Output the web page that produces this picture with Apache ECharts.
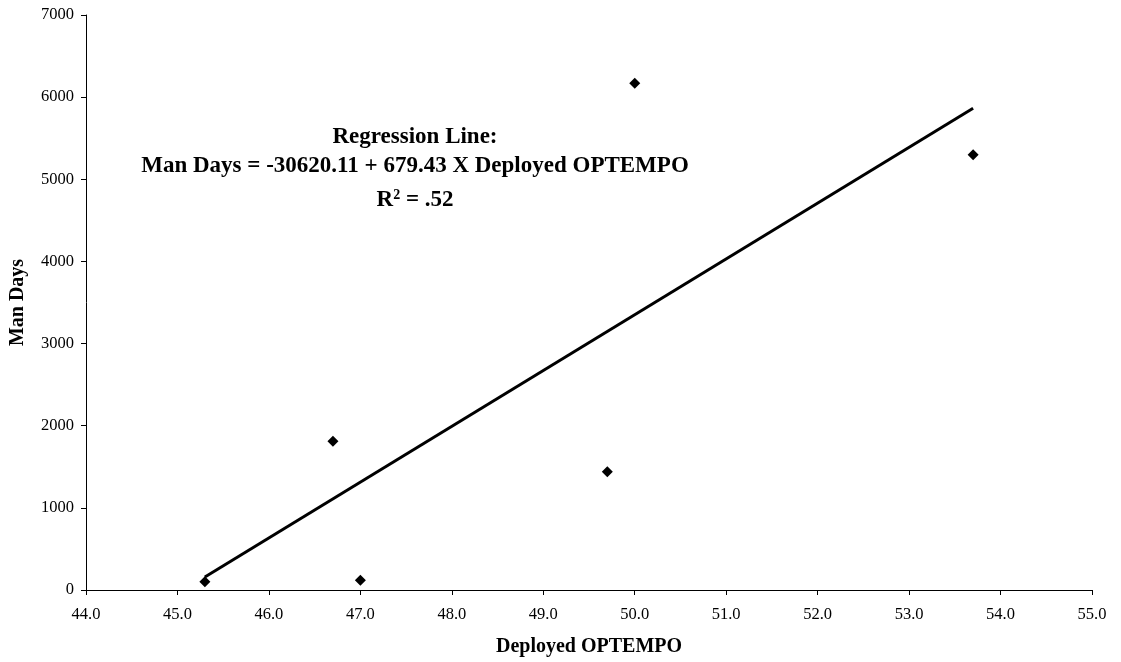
<!DOCTYPE html>
<html>
<head>
<meta charset="utf-8">
<script src="https://cdn.jsdelivr.net/npm/echarts@6/dist/echarts.min.js"></script>
<style>
  html, body { margin: 0; padding: 0; background: #fff; }
  #chart { width: 1121px; height: 662px; }
</style>
</head>
<body>
<div id="chart"></div>
<script>
// observed points (Deployed OPTEMPO vs Man Days)
const optempo = [45.3, 46.7, 47.0, 49.7, 50.0, 53.7];
const manDays = [100, 1810, 120, 1440, 6170, 5300];

// regression line end points as drawn
const trendX = [45.3, 53.7];
const trendY = [158, 5865];

const annotation = [
  "Regression Line:",
  "Man Days = -30620.11 + 679.43 X Deployed OPTEMPO",
];

const font = "'Liberation Serif', 'Times New Roman', serif";

const chart = echarts.init(document.getElementById("chart"), null, { renderer: "canvas" });

const axisCommon = {
  axisLine: { show: true, lineStyle: { color: "#000", width: 1 } },
  axisTick: { show: true, inside: false, length: 5, lineStyle: { color: "#000" } },
  splitLine: { show: false },
  nameLocation: "middle",
  nameTextStyle: { fontFamily: font, fontWeight: "bold", fontSize: 20, color: "#000" },
};

chart.setOption({
  backgroundColor: "#fff",
  animation: false,
  grid: { left: 84, right: 29, top: 15, bottom: 70, containLabel: false },
  xAxis: {
    ...axisCommon,
    type: "value",
    min: 44,
    max: 55,
    interval: 1,
    name: "Deployed OPTEMPO",
    nameGap: 47,
    axisLabel: {
      color: "#000", fontFamily: font, fontSize: 16.5, margin: 16,
      formatter: (v) => v.toFixed(1),
    },
  },
  yAxis: {
    ...axisCommon,
    type: "value",
    min: 0,
    max: 7000,
    interval: 1000,
    name: "Man Days",
    nameGap: 58,
    axisLabel: {
      color: "#000", fontFamily: font, fontSize: 16.5, margin: 12,
      formatter: (v) => String(v),
    },
  },
  series: [
    {
      type: "line",
      data: trendX.map((x, i) => [x, trendY[i]]),
      symbol: "none",
      lineStyle: { color: "#000", width: 3 },
      z: 2,
    },
    {
      type: "scatter",
      data: optempo.map((x, i) => [x, manDays[i]]),
      symbol: "diamond",
      symbolSize: 11,
      itemStyle: { color: "#000", opacity: 1 },
      z: 3,
    },
  ],
  graphic: [
    {
      type: "text", x: 415, y: 137,
      style: { text: annotation[0], align: "center", verticalAlign: "middle",
        font: `bold 23px ${font}`, fill: "#000" },
    },
    {
      type: "text", x: 415, y: 166,
      style: { text: annotation[1], align: "center", verticalAlign: "middle",
        font: `bold 23px ${font}`, fill: "#000" },
    },
    {
      type: "text", x: 415, y: 200,
      style: {
        text: "{b|R}{s|2}{b| = .52}",
        align: "center", verticalAlign: "middle",
        rich: {
          b: { fontFamily: font, fontWeight: "bold", fontSize: 23, fill: "#000" },
          s: { fontFamily: font, fontWeight: "bold", fontSize: 14, fill: "#000",
               padding: [0, 0, 10, 0] },
        },
      },
    },
  ],
});
</script>
</body>
</html>
